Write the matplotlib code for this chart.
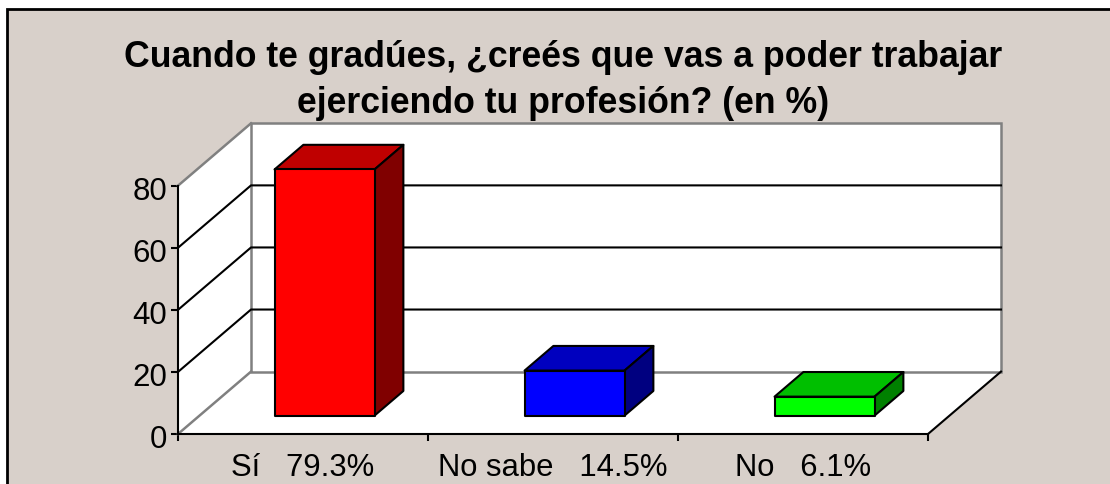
import matplotlib

matplotlib.use("Agg")
import matplotlib.pyplot as plt
from matplotlib.patches import Polygon, Rectangle
from matplotlib.transforms import ScaledTranslation

plt.rcParams["font.family"] = ["Liberation Sans", "DejaVu Sans"]

title = "Cuando te gradúes, ¿creés que vas a poder trabajar\nejerciendo tu profesión? (en %)"
categories = ["Sí   79.3%", "No sabe   14.5%", "No   6.1%"]
values = [79.3, 14.5, 6.1]
yticks = [0, 20, 40, 60, 80]

front_colors = ["#ff0000", "#0000ff", "#00ff00"]
top_colors = ["#bf0000", "#0000bf", "#00bf00"]
side_colors = ["#800000", "#000080", "#008000"]

W, H = 1110, 484
BG = "#d8d0ca"
GREY = "#808080"
LW = 1.5

# oblique projection: one unit of depth in category / value units
DX, DY = 73 / 250, 62.4 / 3.104
BAR_W = 0.4
D0, D1 = 0.295, 0.69


def proj(x, v, d=0.0):
    return x + DX * d, v + DY * d


fig = plt.figure(figsize=(W / 100, H / 100), dpi=100, facecolor="white")

# card behind the chart, right and bottom edges run off the picture
fig.add_artist(Rectangle((7 / W, -0.02), (W + 10) / W, 1.02 - 9 / H, transform=fig.transFigure,
                         facecolor=BG, edgecolor="black", linewidth=2, zorder=-1))

ax = fig.add_axes([178 / W, 1 - 434 / H, 750 / W, 248.3 / H])
ax.set_xlim(0, 3)
ax.set_ylim(0, 80)
ax.patch.set_visible(False)
for s in ["top", "right"]:
    ax.spines[s].set_visible(False)


def face(pts, **kw):
    ax.add_patch(Polygon([proj(*p) for p in pts], closed=True, clip_on=False, **kw))


# floor and side wall first so the back wall outline stays on top
face([(0, 0, 0), (0, 80, 0), (0, 80, 1), (0, 0, 1)], facecolor="white", edgecolor="none", zorder=1)
face([(0, 0, 0), (3, 0, 0), (3, 0, 1), (0, 0, 1)], facecolor="white", edgecolor="none", zorder=1)
face([(0, 0, 1), (0, 80, 1), (3, 80, 1), (3, 0, 1)], facecolor="white", edgecolor=GREY, lw=1.8, zorder=1)

ax.plot(*zip(proj(0, 0, 0), proj(0, 0, 1)), color=GREY, lw=1.8, clip_on=False, zorder=2)
ax.plot(*zip(proj(0, 80, 0), proj(0, 80, 1)), color=GREY, lw=1.8, clip_on=False, zorder=2)
ax.plot(*zip(proj(3, 0, 0), proj(3, 0, 1)), color="black", lw=LW, clip_on=False, zorder=2)

# gridlines
for v in yticks[1:-1]:
    xs, ys = zip(proj(0, v, 0), proj(0, v, 1), proj(3, v, 1))
    ax.plot(xs, ys, color="black", lw=LW, clip_on=False, zorder=2)

# bars
for i, v in enumerate(values):
    x0 = i + 0.5 - BAR_W / 2
    x1 = x0 + BAR_W
    style = dict(edgecolor="black", lw=LW, joinstyle="round", zorder=3)
    face([(x0, v, D0), (x1, v, D0), (x1, v, D1), (x0, v, D1)], facecolor=top_colors[i], **style)
    face([(x1, 0, D0), (x1, v, D0), (x1, v, D1), (x1, 0, D1)], facecolor=side_colors[i], **style)
    face([(x0, 0, D0), (x1, 0, D0), (x1, v, D0), (x0, v, D0)], facecolor=front_colors[i], **style)

ax.spines["left"].set_linewidth(LW)
ax.spines["bottom"].set_linewidth(LW)
ax.spines["left"].set_zorder(4)
ax.spines["bottom"].set_zorder(4)

ax.set_yticks(yticks)
ax.set_xticks(range(4))
ax.set_xticklabels([])
ax.tick_params(axis="both", width=LW, length=5, labelsize=22.5, colors="black", pad=3)
ax.set_xticks([i + 0.5 for i in range(3)], minor=True)
ax.set_xticklabels(categories, minor=True, fontsize=22.3)
ax.tick_params(axis="x", which="minor", length=0, pad=14)

# the value labels sit a little below their ticks
nudge = ScaledTranslation(0, -3 / 100, fig.dpi_scale_trans)
for lab in ax.get_yticklabels():
    lab.set_transform(lab.get_transform() + nudge)

fig.text(563 / W, 1 - 80.5 / H, title, ha="center", va="center", fontsize=25.7, fontweight="bold",
         linespacing=1.43)

fig.savefig("out.png", dpi=100, facecolor=fig.get_facecolor())
